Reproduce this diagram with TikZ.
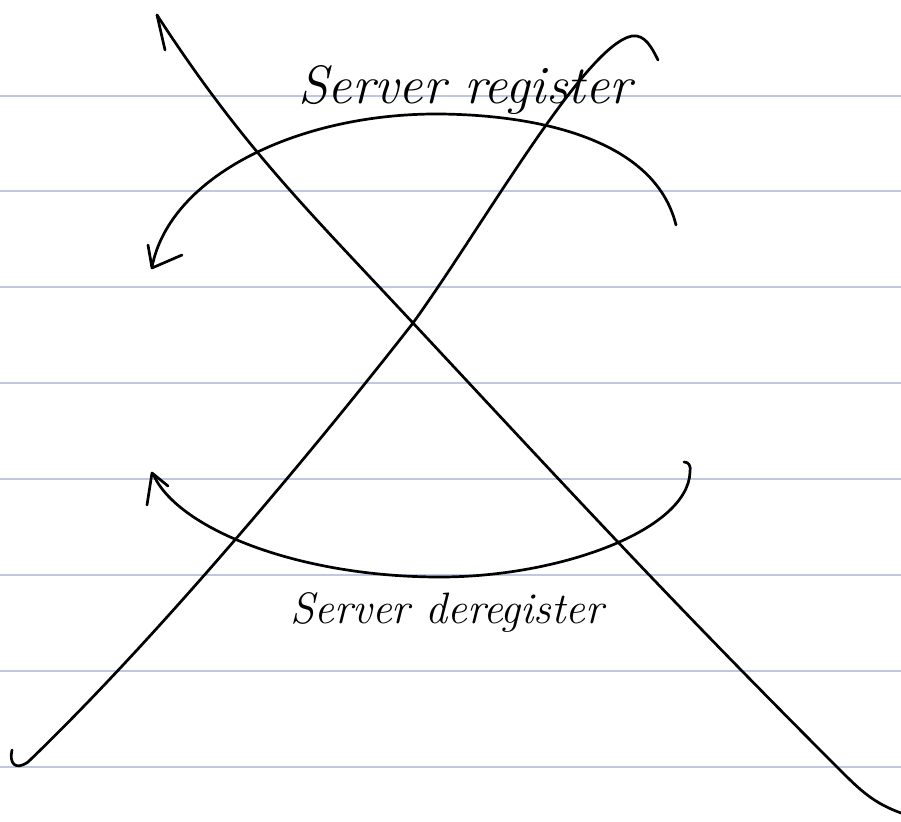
\documentclass[tikz,border=0pt]{standalone}
\usepackage{tikz}
\usetikzlibrary{arrows.meta,positioning}
\definecolor{rulecol}{RGB}{190,201,222}
\tikzset{
rule/.style={draw=rulecol,line width=1.8pt},
ink/.style={draw=black,line width=2.7pt,line cap=round,line join=round},
note/.style={font=\fontsize{54}{58}\selectfont\itshape,inner sep=0pt}
}

\begin{document}
\begin{tikzpicture}[x=1pt,y=-1pt]
\useasboundingbox (0,0) rectangle (901,821);
\fill[white] (0,0) rectangle (901,821);

% ruled paper
\foreach \y in {96,191,287,383,479,575,671,767}
  \draw[rule] (0,\y) -- (901,\y);

% the two crossing strokes
\draw[ink] (157,15) to[out=-57,in=133] (413,323) to[out=-47,in=135] (840,770) to[out=-45,in=160] (901,813);
\draw[ink] (157,15) -- (165,50);
\draw[ink] (12,750) .. controls (9,763) and (15,771) .. (28,762) .. controls (158,637) and (313,451) .. (413,323) .. controls (483,226) and (585,45) .. (632,36) .. controls (645,34) and (652,48) .. (658,60);

% register loop
\draw[ink] (676,225) .. controls (655,140) and (540,115) .. (440,114) .. controls (300,113) and (170,175) .. (152,267);
\draw[ink] (148,245) -- (152,268) -- (182,255);

% deregister loop
\draw[ink] (684,462) .. controls (689,462) and (691,466) .. (690,472) .. controls (688,530) and (560,577) .. (440,577) .. controls (300,577) and (180,530) .. (154,476);
\draw[ink] (147,505) -- (152,473) -- (168,486);

\node[note] (reg) at (465,90) {Server register};
\node[note,font=\fontsize{44}{48}\selectfont\itshape] (dereg) at (447,612) {Server deregister};
\end{tikzpicture}
\end{document}
